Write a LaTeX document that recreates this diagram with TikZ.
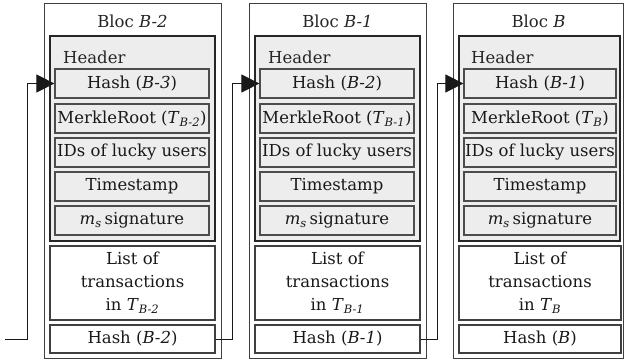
\documentclass[tikz,border=0pt]{standalone}
\usepackage{fontspec}
\setmainfont{DejaVu Serif}
\usetikzlibrary{arrows.meta}

\newcommand{\sub}[1]{\textsubscript{\textit{#1}}}

\tikzset{
  bloc/.style={draw=black!75, line width=1pt, fill=white, inner sep=0pt},
  header/.style={draw=black!85, line width=1.6pt, fill=black!7, inner sep=0pt},
  field/.style={draw=black!70, line width=1.2pt, fill=black!7, inner sep=0pt, minimum height=29pt},
  txbox/.style={draw=black!75, line width=1.2pt, fill=white, inner sep=0pt, align=center},
  lbl/.style={inner sep=0pt, text=black!85},
  link/.style={draw=black!90, line width=1pt, -{Triangle[length=18pt,width=18pt]}}
}

\begin{document}
\begin{tikzpicture}[x=1pt, y=-1pt, font=\fontsize{16.5}{23}\selectfont, text=black!90]

  % Bounding box of the scheme
  \useasboundingbox (0,0) rectangle (624,364);

  %%%%%%%%%%%%%%%%%%%%%%%%%%%%%%%%% Bloc B-2 %%%%%%%%%%%%%%%%%%%%%%%%%%%%%%%%%%%%
  \node[bloc, minimum width=177pt, minimum height=355pt] (blocA) at (132.5,180.5) {};
  \node[lbl] (titleA) at (132.5,21) {Bloc \textit{B-2}};
  \node[header, minimum width=165pt, minimum height=205pt] (headA) at (132.5,138.5) {};
  \node[lbl, anchor=west] (headtxtA) at (63,57) {Header};
  \node[field, minimum width=154pt] (prevA) at (132,83.5) {Hash (\textit{B-3})};
  \node[field, minimum width=154pt] (merkleA) at (132,118.5) {MerkleRoot (\textit{T}\sub{B-2})};
  \node[field, minimum width=154pt] (idsA) at (132,152.5) {IDs of lucky users};
  \node[field, minimum width=154pt] (timeA) at (132,186.5) {Timestamp};
  \node[field, minimum width=154pt] (signA) at (132,220.5) {\textit{m}\sub{s}\,signature};
  \node[txbox, minimum width=165pt, minimum height=74pt] (listA) at (132.5,283) {List of\\transactions\\in \textit{T}\sub{B-2}};
  \node[txbox, minimum width=165pt, minimum height=28pt] (hashA) at (132.5,339) {Hash (\textit{B-2})};

  %%%%%%%%%%%%%%%%%%%%%%%%%%%%%%%%% Bloc B-1 %%%%%%%%%%%%%%%%%%%%%%%%%%%%%%%%%%%%
  \node[bloc, minimum width=177pt, minimum height=355pt] (blocB) at (337.5,180.5) {};
  \node[lbl] (titleB) at (337.5,21) {Bloc \textit{B-1}};
  \node[header, minimum width=165pt, minimum height=205pt] (headB) at (337.5,138.5) {};
  \node[lbl, anchor=west] (headtxtB) at (268,57) {Header};
  \node[field, minimum width=154pt] (prevB) at (337,83.5) {Hash (\textit{B-2})};
  \node[field, minimum width=154pt] (merkleB) at (337,118.5) {MerkleRoot (\textit{T}\sub{B-1})};
  \node[field, minimum width=154pt] (idsB) at (337,152.5) {IDs of lucky users};
  \node[field, minimum width=154pt] (timeB) at (337,186.5) {Timestamp};
  \node[field, minimum width=154pt] (signB) at (337,220.5) {\textit{m}\sub{s}\,signature};
  \node[txbox, minimum width=165pt, minimum height=74pt] (listB) at (337.5,283) {List of\\transactions\\in \textit{T}\sub{B-1}};
  \node[txbox, minimum width=165pt, minimum height=28pt] (hashB) at (337.5,339) {Hash (\textit{B-1})};

  %%%%%%%%%%%%%%%%%%%%%%%%%%%%%%%%% Bloc B %%%%%%%%%%%%%%%%%%%%%%%%%%%%%%%%%%%%
  \node[bloc, minimum width=170pt, minimum height=355pt] (blocC) at (538.5,180.5) {};
  \node[lbl] (titleC) at (538.5,21) {Bloc \textit{B}};
  \node[header, minimum width=161pt, minimum height=205pt] (headC) at (539.5,138.5) {};
  \node[lbl, anchor=west] (headtxtC) at (471,57) {Header};
  \node[field, minimum width=152pt] (prevC) at (540,83.5) {Hash (\textit{B-1})};
  \node[field, minimum width=152pt] (merkleC) at (540,118.5) {MerkleRoot (\textit{T}\sub{B})};
  \node[field, minimum width=152pt] (idsC) at (540,152.5) {IDs of lucky users};
  \node[field, minimum width=152pt] (timeC) at (540,186.5) {Timestamp};
  \node[field, minimum width=152pt] (signC) at (540,220.5) {\textit{m}\sub{s}\,signature};
  \node[txbox, minimum width=162pt, minimum height=74pt] (listC) at (540,283) {List of\\transactions\\in \textit{T}\sub{B}};
  \node[txbox, minimum width=162pt, minimum height=28pt] (hashC) at (540,339) {Hash (\textit{B})};

  %%%%%%%%%%%%%%%%%%%%%%%%%%%%%%%%% Links between blocs %%%%%%%%%%%%%%%%%%%%%%%%%%%%%%%%%%%%
  \coordinate (start) at (5,339);
  \draw[link] (start) -- ++(22,0) |- (prevA.west);
  \draw[link] (hashA.east) -- ++(17,0) |- (prevB.west);
  \draw[link] (hashB.east) -- ++(17,0) |- (prevC.west);

\end{tikzpicture}
\end{document}
